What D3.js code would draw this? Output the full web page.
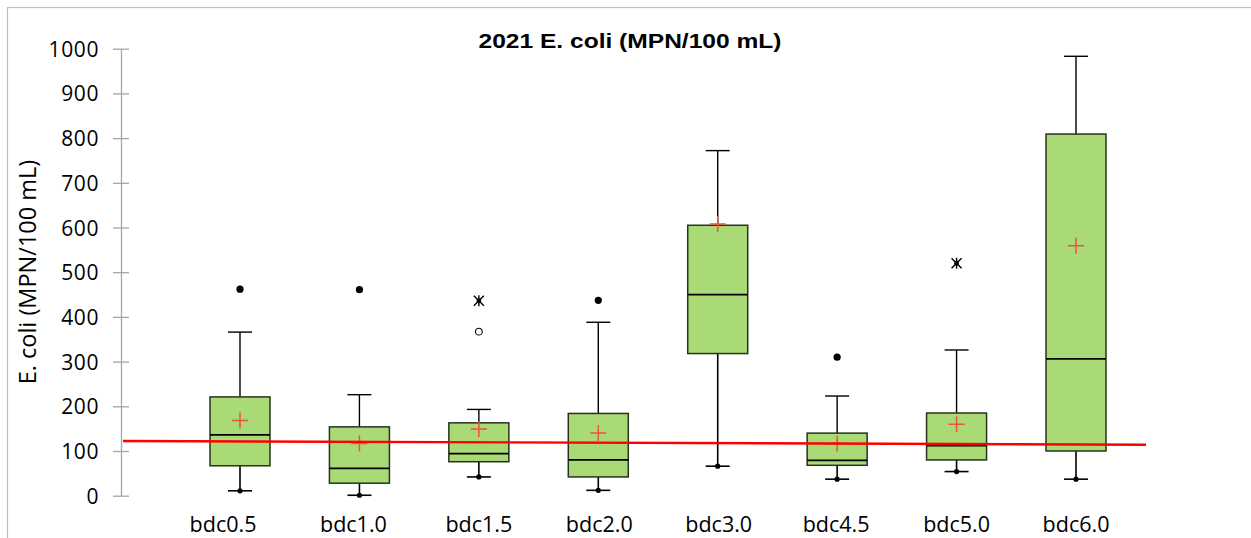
<!DOCTYPE html>
<html>
<head>
<meta charset="utf-8">
<script src="https://cdn.jsdelivr.net/npm/d3@7"></script>
<style>
  body { margin: 0; background: #fff; }
  svg { display: block; }
</style>
</head>
<body>
<div id="chart"></div>
<script>
// data
var categories  = ['bdc0.5', 'bdc1.0', 'bdc1.5', 'bdc2.0', 'bdc3.0', 'bdc4.5', 'bdc5.0', 'bdc6.0'];
var whisker_low = [11, 1, 42, 12, 66, 37, 54, 37];
var q1          = [67, 28, 76, 42, 318, 68, 80, 100];
var medians     = [136, 61, 94, 80, 450, 79, 112, 306];
var q3          = [221, 154, 163, 184, 605, 140, 185, 809];
var whisker_high= [366, 226, 193, 388, 772, 223, 326, 983];
var means       = [168, 117, 149, 140, 608, 117, 160, 559];

var outlier_cat   = ['bdc0.5', 'bdc1.0', 'bdc1.5', 'bdc1.5', 'bdc2.0', 'bdc4.5', 'bdc5.0'];
var outlier_value = [462, 461, 436, 367, 437, 310, 520];
var outlier_shape = ['dot', 'dot', 'star', 'circle', 'dot', 'dot', 'star'];

var y_ticks = [0, 100, 200, 300, 400, 500, 600, 700, 800, 900, 1000];
var ref_line = [122.5, 114];   // red line value at left and right edge

var chart_width = 1251
var chart_height = 538
var plot_left = 121
var plot_right = 1146
var box_width = 60
var cap_width = 24
// the first labels sit a little left of their boxes in the original
var label_shift = [-17, -6, 0, 1, 1, -1, 0, 0]

var svg = d3.select('#chart')
    .append('svg')
    .attr('width', chart_width)
    .attr('height', chart_height);

// outer frame
svg.append('rect')
    .attr('x', 7.5).attr('y', 7.5)
    .attr('width', 1400).attr('height', 700)
    .attr('fill', 'none')
    .attr('stroke', '#bfbfbf')
    .attr('stroke-width', 1.2);

var x = d3.scalePoint()
    .domain(categories)
    .range([240, 1076]);

var y = d3.scaleLinear()
    .domain([0, 1000])
    .range([495.7, 48.7]);

// y axis
var yAxis = d3.axisLeft(y)
    .tickValues(y_ticks)
    .tickSize(0)
    .tickPadding(0)
    .tickFormat(d3.format('d'));

var ga = svg.append('g')
    .attr('transform', 'translate(' + plot_left + ',0)')
    .call(yAxis);
ga.select('.domain').attr('stroke', '#a6a6a6').attr('stroke-width', 1.3);
ga.selectAll('.tick line')
    .attr('x1', -8).attr('x2', 8)
    .attr('stroke', '#a6a6a6').attr('stroke-width', 1.3);
ga.selectAll('.tick text')
    .attr('x', -22)
    .attr('dy', '0.36em')
    .attr('fill', '#000')
    .style('font-family', 'Open Sans, sans-serif')
    .style('font-size', '21px')
    .style('letter-spacing', '0.6px');

// y title
svg.append('text')
    .attr('transform', 'translate(36,272) rotate(-90)')
    .attr('text-anchor', 'middle')
    .style('font-family', 'Open Sans, sans-serif')
    .style('font-size', '23.5px')
    .text('E. coli (MPN/100 mL)');

// title
svg.append('text')
    .attr('transform', 'translate(630,48) scale(1.17,1)')
    .attr('text-anchor', 'middle')
    .style('font-family', 'Liberation Sans, Arial, sans-serif')
    .style('font-weight', 'bold')
    .style('font-size', '21px')
    .text('2021 E. coli (MPN/100 mL)');

// category labels
svg.selectAll('text.cat')
    .data(categories)
    .enter()
    .append('text')
    .attr('class', 'cat')
    .attr('x', function(d, i){ return x(d) + label_shift[i]; })
    .attr('y', 532)
    .attr('text-anchor', 'middle')
    .style('font-family', 'Open Sans, sans-serif')
    .style('font-size', '21.5px')
    .text(function(d){ return d; });

var boxes = svg.selectAll('g.box')
    .data(categories)
    .enter()
    .append('g')
    .attr('class', 'box');

// whiskers
boxes.append('line')
    .attr('x1', function(d){ return x(d); })
    .attr('x2', function(d){ return x(d); })
    .attr('y1', function(d, i){ return y(whisker_high[i]); })
    .attr('y2', function(d, i){ return y(q3[i]); })
    .attr('stroke', '#000').attr('stroke-width', 1.4);
boxes.append('line')
    .attr('x1', function(d){ return x(d); })
    .attr('x2', function(d){ return x(d); })
    .attr('y1', function(d, i){ return y(whisker_low[i]); })
    .attr('y2', function(d, i){ return y(q1[i]); })
    .attr('stroke', '#000').attr('stroke-width', 1.6);
boxes.append('line')
    .attr('x1', function(d){ return x(d) - cap_width / 2; })
    .attr('x2', function(d){ return x(d) + cap_width / 2; })
    .attr('y1', function(d, i){ return y(whisker_high[i]); })
    .attr('y2', function(d, i){ return y(whisker_high[i]); })
    .attr('stroke', '#000').attr('stroke-width', 1.4);
boxes.append('line')
    .attr('x1', function(d){ return x(d) - cap_width / 2; })
    .attr('x2', function(d){ return x(d) + cap_width / 2; })
    .attr('y1', function(d, i){ return y(whisker_low[i]); })
    .attr('y2', function(d, i){ return y(whisker_low[i]); })
    .attr('stroke', '#000').attr('stroke-width', 1.6);
boxes.append('circle')
    .attr('cx', function(d){ return x(d); })
    .attr('cy', function(d, i){ return y(whisker_low[i]); })
    .attr('r', 2.6)
    .attr('fill', '#000');

// box
boxes.append('rect')
    .attr('x', function(d){ return x(d) - box_width / 2; })
    .attr('y', function(d, i){ return y(q3[i]); })
    .attr('width', box_width)
    .attr('height', function(d, i){ return y(q1[i]) - y(q3[i]); })
    .attr('fill', '#a9da76')
    .attr('stroke', '#26331b')
    .attr('stroke-width', 1.5);

// median
boxes.append('line')
    .attr('x1', function(d){ return x(d) - box_width / 2; })
    .attr('x2', function(d){ return x(d) + box_width / 2; })
    .attr('y1', function(d, i){ return y(medians[i]); })
    .attr('y2', function(d, i){ return y(medians[i]); })
    .attr('stroke', '#000').attr('stroke-width', 1.8);

// reference line
svg.append('line')
    .attr('x1', plot_left + 2).attr('x2', plot_right)
    .attr('y1', y(ref_line[0])).attr('y2', y(ref_line[1]))
    .attr('stroke', '#ff0000').attr('stroke-width', 2.4);

// mean markers
boxes.append('path')
    .attr('d', function(d, i){
        var cx = x(d), cy = y(means[i]);
        return 'M' + (cx - 8) + ',' + cy + 'H' + (cx + 8) +
               'M' + cx + ',' + (cy - 8) + 'V' + (cy + 8);
    })
    .attr('stroke', '#f0503c').attr('stroke-width', 1.5).attr('fill', 'none');

// outliers
var outliers = outlier_value.map(function(v, i){
    return { cat: outlier_cat[i], value: v, shape: outlier_shape[i] };
});

svg.selectAll('g.outlier')
    .data(outliers)
    .enter()
    .append('g')
    .attr('class', 'outlier')
    .attr('transform', function(d){ return 'translate(' + x(d.cat) + ',' + y(d.value) + ')'; })
    .each(function(d){
        var g = d3.select(this);
        if (d.shape === 'dot') {
            g.append('circle').attr('r', 3.6).attr('fill', '#000');
        } else if (d.shape === 'circle') {
            g.append('circle').attr('r', 3.4).attr('fill', '#fff')
                .attr('stroke', '#000').attr('stroke-width', 1.1);
        } else {
            g.append('path')
                .attr('d', 'M-5,-5L5,5M-5,5L5,-5M0,-5.5V5.5')
                .attr('stroke', '#000').attr('stroke-width', 1.4);
            g.append('circle').attr('r', 2.4).attr('fill', '#000');
        }
    });
</script>
</body>
</html>
